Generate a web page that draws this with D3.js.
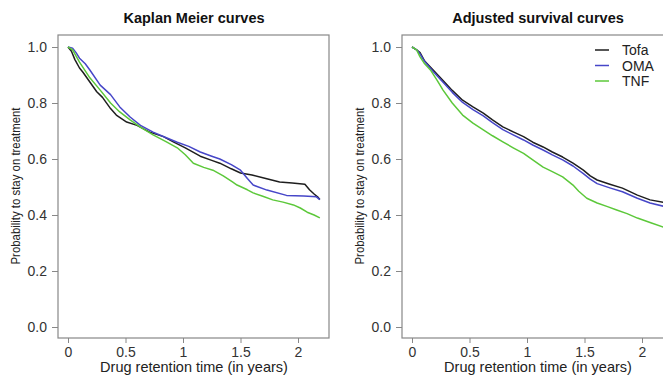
<!DOCTYPE html>
<html>
<head>
<meta charset="utf-8">
<script src="https://cdn.jsdelivr.net/npm/d3@7"></script>
<style>
  body { margin: 0; background: #fff; }
  svg { display: block; font-family: "Liberation Sans", Arial, sans-serif; }
</style>
</head>
<body>
<svg id="chart" width="663" height="375"></svg>
<script>
// data: [time in years, probability]
const seriesNames = ['Tofa', 'OMA', 'TNF'];
const seriesColors = ['#1e1e1e', '#4646c8', '#5cc83a'];
const xTicks = [0, 0.5, 1, 1.5, 2];
const xTickLabels = ['0', '0.5', '1', '1.5', '2'];
const yTicks = [0, 0.2, 0.4, 0.6, 0.8, 1.0];
const yTickLabels = ['0.0', '0.2', '0.4', '0.6', '0.8', '1.0'];

const kmTofa = [[0,1],[0.03,0.985],[0.06,0.955],[0.1,0.925],[0.13,0.91],[0.19,0.875],[0.25,0.84],[0.3,0.82],[0.37,0.78],[0.42,0.757],[0.51,0.732],[0.6,0.72],[0.71,0.696],[0.83,0.68],[0.92,0.66],[1.02,0.64],[1.15,0.61],[1.25,0.595],[1.32,0.585],[1.42,0.565],[1.5,0.55],[1.6,0.543],[1.72,0.53],[1.84,0.518],[1.95,0.514],[2.06,0.51],[2.1,0.49],[2.14,0.475],[2.17,0.465],[2.19,0.455]];
const kmOMA = [[0,1],[0.04,0.996],[0.07,0.98],[0.1,0.96],[0.15,0.94],[0.19,0.918],[0.28,0.864],[0.37,0.83],[0.45,0.786],[0.54,0.75],[0.63,0.72],[0.74,0.696],[0.86,0.675],[0.95,0.66],[1.05,0.645],[1.15,0.625],[1.25,0.61],[1.32,0.6],[1.42,0.58],[1.5,0.56],[1.56,0.53],[1.61,0.507],[1.73,0.489],[1.9,0.47],[2.05,0.468],[2.16,0.465],[2.19,0.455]];
const kmTNF = [[0,1],[0.04,0.99],[0.1,0.946],[0.19,0.89],[0.28,0.846],[0.37,0.8],[0.45,0.768],[0.54,0.74],[0.63,0.714],[0.74,0.686],[0.86,0.66],[0.95,0.64],[1.02,0.615],[1.09,0.585],[1.18,0.57],[1.26,0.56],[1.35,0.54],[1.43,0.518],[1.47,0.507],[1.56,0.49],[1.61,0.479],[1.7,0.466],[1.78,0.454],[1.87,0.446],[1.96,0.436],[2.02,0.425],[2.08,0.41],[2.14,0.4],[2.19,0.39]];

const adjTofa = [[0,1],[0.04,0.99],[0.07,0.98],[0.11,0.95],[0.19,0.915],[0.27,0.88],[0.35,0.845],[0.44,0.81],[0.53,0.786],[0.62,0.764],[0.7,0.74],[0.79,0.715],[0.88,0.697],[0.97,0.68],[1.05,0.66],[1.14,0.643],[1.22,0.625],[1.31,0.607],[1.4,0.585],[1.49,0.56],[1.55,0.54],[1.61,0.525],[1.72,0.51],[1.83,0.496],[1.96,0.471],[2.07,0.454],[2.2,0.444]];
const adjOMA = [[0,1],[0.04,0.99],[0.07,0.975],[0.11,0.948],[0.19,0.91],[0.27,0.874],[0.35,0.838],[0.44,0.802],[0.53,0.776],[0.62,0.754],[0.7,0.73],[0.79,0.705],[0.88,0.686],[0.97,0.668],[1.05,0.65],[1.14,0.632],[1.22,0.615],[1.31,0.597],[1.4,0.575],[1.49,0.548],[1.55,0.528],[1.61,0.512],[1.72,0.497],[1.83,0.483],[1.96,0.46],[2.07,0.443],[2.2,0.43]];
const adjTNF = [[0,1],[0.04,0.99],[0.07,0.965],[0.11,0.94],[0.16,0.918],[0.22,0.88],[0.27,0.846],[0.35,0.8],[0.44,0.757],[0.53,0.728],[0.62,0.704],[0.7,0.683],[0.79,0.661],[0.88,0.64],[0.97,0.62],[1.05,0.597],[1.14,0.571],[1.22,0.555],[1.31,0.536],[1.4,0.507],[1.45,0.485],[1.52,0.46],[1.61,0.443],[1.7,0.43],[1.78,0.418],[1.87,0.405],[1.96,0.389],[2.07,0.373],[2.2,0.355]];

const svg = d3.select('#chart');

function drawPanel(opts) {
  const g = svg.append('g');
  const x = d3.scaleLinear().domain([0, 1]).range([opts.x0, opts.x0 + 115]);
  const y = d3.scaleLinear().domain([0, 1]).range([327, 47]);
  const box = { left: opts.boxLeft, right: opts.boxRight, top: 35, bottom: 338 };

  // y axis
  const ya = g.append('g')
    .attr('transform', `translate(${box.left},0)`)
    .call(d3.axisLeft(y).tickValues(yTicks).tickSize(6).tickPadding(5)
      .tickFormat((d, i) => yTickLabels[i]));
  // x axis
  const xa = g.append('g')
    .attr('transform', `translate(0,${box.bottom})`)
    .call(d3.axisBottom(x).tickValues(xTicks).tickSize(5).tickPadding(4)
      .tickFormat((d, i) => xTickLabels[i]));
  [ya, xa].forEach(a => {
    a.select('.domain').remove();
    a.selectAll('line').attr('stroke', '#888');
    a.selectAll('text').attr('fill', '#333').style('font-size', '14px');
  });

  g.append('rect')
    .attr('x', box.left).attr('y', box.top)
    .attr('width', box.right - box.left).attr('height', box.bottom - box.top)
    .attr('fill', 'none').attr('stroke', '#888').attr('stroke-width', 1.2);

  const clipId = 'clip' + opts.id;
  g.append('clipPath').attr('id', clipId).append('rect')
    .attr('x', box.left).attr('y', box.top)
    .attr('width', box.right - box.left).attr('height', box.bottom - box.top);

  const line = d3.line().x(d => x(d[0])).y(d => y(d[1]));
  g.append('g').attr('clip-path', `url(#${clipId})`)
    .selectAll('path').data(opts.series)
    .join('path')
    .attr('d', line)
    .attr('fill', 'none')
    .attr('stroke', (d, i) => seriesColors[i])
    .attr('stroke-width', 1.5)
    .attr('stroke-linejoin', 'round');

  g.append('text')
    .attr('x', opts.cx).attr('y', 23)
    .attr('text-anchor', 'middle')
    .style('font-size', '14.5px').style('font-weight', 'bold')
    .attr('fill', '#111')
    .text(opts.title);

  g.append('text')
    .attr('x', opts.cx).attr('y', 372)
    .attr('text-anchor', 'middle')
    .style('font-size', '14.5px').attr('fill', '#222')
    .text('Drug retention time (in years)');

  g.append('text')
    .attr('transform', `translate(${opts.ylabX},186) rotate(-90)`)
    .attr('text-anchor', 'middle')
    .attr('textLength', 157).attr('lengthAdjust', 'spacingAndGlyphs')
    .style('font-size', '13px').attr('fill', '#222')
    .text('Probability to stay on treatment');

  return { g, x, y };
}

drawPanel({ id: 'km', x0: 68, boxLeft: 58, boxRight: 329, cx: 194, ylabX: 20,
  title: 'Kaplan Meier curves', series: [kmTofa, kmOMA, kmTNF] });

drawPanel({ id: 'adj', x0: 412, boxLeft: 402, boxRight: 700, cx: 538, ylabX: 364,
  title: 'Adjusted survival curves', series: [adjTofa, adjOMA, adjTNF] });

// legend
const legend = svg.append('g').attr('transform', 'translate(595,50)');
seriesNames.forEach((name, i) => {
  const row = legend.append('g').attr('transform', `translate(0,${i * 15.5})`);
  row.append('line').attr('x1', 0).attr('x2', 14).attr('y1', 0).attr('y2', 0)
    .attr('stroke', seriesColors[i]).attr('stroke-width', 1.5);
  row.append('text').attr('x', 27).attr('y', 5)
    .style('font-size', '14px').attr('fill', '#222').text(name);
});
</script>
</body>
</html>
